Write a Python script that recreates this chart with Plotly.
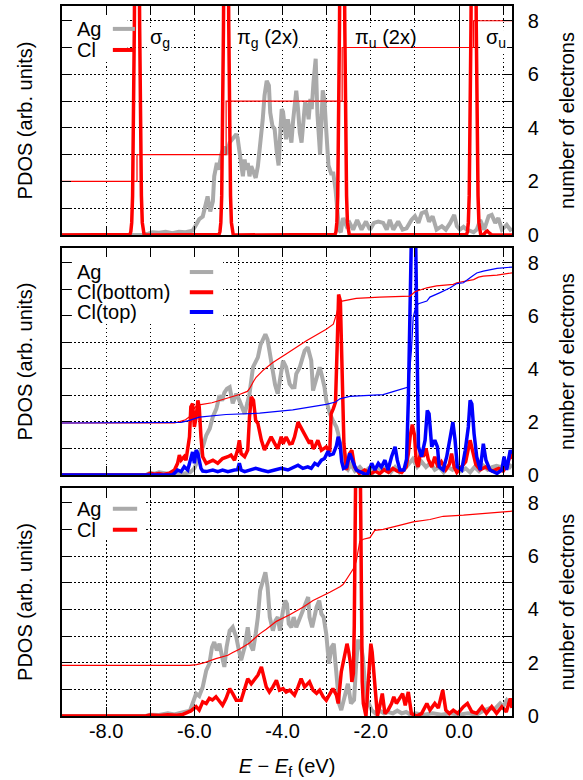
import plotly.graph_objects as go
from plotly.subplots import make_subplots

# ---------------------------------------------------------------- data
# (energy relative to E_f in eV, value) pairs

# panel 1: Cl2 molecule + Ag
top_ag = [(-9.0, 0.0), (-7.2, 0.0), (-7.05, 0.05), (-6.95, 0.1), (-6.8, 0.08), (-6.65, 0.12), (-6.5, 0.07),
          (-6.35, 0.12), (-6.2, 0.1), (-6.1, 0.13), (-6.04, 0.16), (-5.96, 0.38), (-5.89, 0.59), (-5.81, 0.69),
          (-5.75, 1.07), (-5.70, 1.44), (-5.64, 0.88), (-5.58, 1.25), (-5.55, 2.19), (-5.49, 2.69), (-5.45, 2.44),
          (-5.39, 3.01), (-5.33, 3.3), (-5.27, 3.0), (-5.20, 3.45), (-5.13, 3.57), (-5.05, 3.76), (-5.02, 3.63),
          (-4.98, 3.07), (-4.94, 2.57), (-4.90, 2.19), (-4.86, 2.82), (-4.83, 2.44), (-4.79, 2.69), (-4.75, 2.19),
          (-4.71, 2.57), (-4.66, 2.32), (-4.61, 2.13), (-4.56, 2.57), (-4.52, 3.13), (-4.48, 3.82), (-4.45, 4.32),
          (-4.41, 5.2), (-4.36, 5.76), (-4.31, 5.58), (-4.28, 4.57), (-4.23, 4.07), (-4.18, 3.95), (-4.13, 3.07),
          (-4.09, 2.6), (-4.05, 3.9), (-4.02, 4.7), (-3.99, 4.6), (-3.95, 4.07), (-3.92, 3.57), (-3.88, 4.32),
          (-3.84, 3.88), (-3.80, 3.45), (-3.76, 4.3), (-3.72, 4.9), (-3.69, 5.39), (-3.65, 4.7), (-3.61, 3.82),
          (-3.57, 3.45), (-3.53, 4.2), (-3.49, 4.95), (-3.45, 4.82), (-3.41, 4.32), (-3.37, 5.08), (-3.34, 4.7),
          (-3.30, 5.7), (-3.25, 6.58), (-3.21, 4.5), (-3.15, 3.0), (-3.09, 5.4), (-3.05, 5.0), (-3.01, 3.9),
          (-2.96, 2.6), (-2.90, 2.3), (-2.85, 2.3), (-2.80, 1.7), (-2.76, 0.8), (-2.72, 0.2), (-2.68, 0.1),
          (-2.63, 0.63), (-2.55, 0.33), (-2.48, 0.45), (-2.40, 0.2), (-2.31, 0.56), (-2.21, 0.2), (-2.11, 0.5),
          (-2.02, 0.2), (-1.93, 0.45), (-1.83, 0.5), (-1.72, 0.45), (-1.64, 0.2), (-1.57, 0.56), (-1.49, 0.2),
          (-1.38, 0.5), (-1.28, 0.2), (-1.19, 0.25), (-1.08, 0.56), (-1.00, 0.7), (-0.92, 0.45), (-0.85, 0.81),
          (-0.75, 0.88), (-0.68, 0.5), (-0.60, 0.7), (-0.51, 0.2), (-0.39, 0.33), (-0.30, 0.2), (-0.20, 0.45),
          (-0.11, 0.75), (-0.05, 0.33), (0.02, 0.2), (0.10, 0.3), (0.17, 0.2), (0.25, 0.15), (0.33, 0.1),
          (0.40, 0.2), (0.48, 0.56), (0.57, 0.2), (0.67, 0.7), (0.74, 0.75), (0.82, 0.45), (0.89, 0.63),
          (0.97, 0.2), (1.08, 0.38), (1.16, 0.2), (1.20, 0.25)]

top_cl = [(-9.0, 0.0), (-7.50, 0.0),
          # sigma_g
          (-7.46, 0.02), (-7.44, 0.12), (-7.42, 0.46), (-7.40, 1.46), (-7.38, 3.75), (-7.36, 7.8), (-7.34, 13.2),
          (-7.32, 18.0), (-7.30, 20.0), (-7.28, 18.0), (-7.26, 13.2), (-7.24, 7.8), (-7.22, 3.75), (-7.20, 1.46),
          (-7.18, 0.46), (-7.16, 0.12), (-7.14, 0.02), (-7.10, 0.0), (-5.46, 0.0),
          # pi_g
          (-5.44, 0.02), (-5.42, 0.12), (-5.40, 0.46), (-5.38, 1.46), (-5.36, 3.75), (-5.34, 7.8), (-5.32, 13.2),
          (-5.30, 18.0), (-5.28, 20.0), (-5.26, 18.0), (-5.24, 13.2), (-5.22, 7.8), (-5.20, 3.75), (-5.18, 1.46),
          (-5.16, 0.46), (-5.14, 0.12), (-5.12, 0.02), (-5.08, 0.0), (-2.83, 0.0),
          # pi_u
          (-2.81, 0.02), (-2.79, 0.12), (-2.77, 0.46), (-2.75, 1.46), (-2.73, 3.75), (-2.71, 7.8), (-2.69, 13.2),
          (-2.67, 18.0), (-2.65, 20.0), (-2.63, 18.0), (-2.61, 13.2), (-2.59, 7.8), (-2.57, 3.75), (-2.55, 1.46),
          (-2.53, 0.46), (-2.51, 0.12), (-2.49, 0.02), (-2.45, 0.0), (0.15, 0.0),
          # sigma_u
          (0.17, 0.02), (0.19, 0.12), (0.21, 0.46), (0.23, 1.46), (0.25, 3.75), (0.27, 7.8), (0.29, 13.2),
          (0.31, 18.0), (0.33, 20.0), (0.35, 18.0), (0.37, 13.2), (0.39, 7.8), (0.41, 3.75), (0.43, 1.46),
          (0.45, 0.46), (0.47, 0.12), (0.49, 0.02), (0.53, 0.0),
          (0.57, 0.04), (0.61, 0.12), (0.64, 0.15), (0.68, 0.08), (0.74, 0.0), (1.2, 0.0)]

top_cl_count = [(-9.0, 2), (-7.30, 3), (-5.28, 5), (-2.65, 7), (0.33, 8), (1.2, 8)]

# panel 2: Ag + Cl(bottom) + Cl(top)
mid_ag = [(-9.0, 0.0), (-7.1, 0.0), (-7.0, 0.08), (-6.9, 0.05), (-6.8, 0.1), (-6.6, 0.05), (-6.4, 0.08),
          (-6.25, 0.05), (-6.1, 0.1), (-6.0, 0.25), (-5.95, 0.45), (-5.89, 0.85), (-5.81, 1.05), (-5.73, 1.5),
          (-5.65, 1.75), (-5.58, 2.2), (-5.50, 2.5), (-5.43, 3.0), (-5.37, 2.8), (-5.32, 3.1), (-5.26, 3.25),
          (-5.20, 3.31), (-5.13, 2.7), (-5.05, 3.06), (-4.98, 2.81), (-4.92, 2.5), (-4.86, 2.31), (-4.80, 2.7),
          (-4.75, 3.06), (-4.67, 4.06), (-4.61, 4.3), (-4.56, 4.43), (-4.50, 4.9), (-4.45, 5.12), (-4.39, 5.3),
          (-4.34, 5.1), (-4.30, 4.68), (-4.22, 3.81), (-4.17, 3.4), (-4.11, 3.06), (-4.05, 3.6), (-3.99, 4.3),
          (-3.92, 4.06), (-3.84, 3.43), (-3.78, 3.3), (-3.73, 3.31), (-3.69, 3.81), (-3.61, 4.06), (-3.55, 4.4),
          (-3.50, 4.68), (-3.43, 4.81), (-3.39, 4.6), (-3.35, 4.31), (-3.31, 3.18), (-3.27, 3.4), (-3.23, 3.56),
          (-3.16, 4.06), (-3.12, 3.81), (-3.05, 3.31), (-3.01, 2.81), (-2.93, 2.31), (-2.86, 2.06), (-2.78, 1.81),
          (-2.74, 1.56), (-2.70, 1.2), (-2.65, 0.6), (-2.60, 0.35), (-2.52, 0.2), (-2.45, 0.4), (-2.36, 0.15),
          (-2.25, 0.3), (-2.15, 0.1), (-2.05, 0.25), (-1.95, 0.1), (-1.85, 0.3), (-1.75, 0.15), (-1.65, 0.3),
          (-1.55, 0.1), (-1.45, 0.3), (-1.35, 0.1), (-1.25, 0.2), (-1.15, 0.4), (-1.05, 0.6), (-0.95, 0.3),
          (-0.85, 0.5), (-0.75, 0.3), (-0.65, 0.45), (-0.55, 0.2), (-0.45, 0.3), (-0.35, 0.1), (-0.25, 0.3),
          (-0.15, 0.2), (-0.05, 0.35), (0.05, 0.15), (0.15, 0.25), (0.25, 0.1), (0.35, 0.3), (0.45, 0.15),
          (0.55, 0.35), (0.65, 0.2), (0.75, 0.3), (0.85, 0.35), (0.95, 0.3), (1.05, 0.45), (1.15, 0.3), (1.2, 0.4)]

mid_cl_bottom = [(-9.0, 0.0), (-7.1, 0.0), (-7.0, 0.06), (-6.9, 0.03), (-6.8, 0.06), (-6.7, 0.02), (-6.57, 0.07),
                 (-6.45, 0.19), (-6.38, 0.44), (-6.34, 0.75), (-6.30, 0.56), (-6.23, 0.69), (-6.19, 0.56),
                 (-6.11, 1.44), (-6.08, 2.56), (-6.04, 2.69), (-6.0, 1.81), (-5.96, 2.18), (-5.92, 2.81),
                 (-5.89, 2.56), (-5.85, 1.44), (-5.81, 0.69), (-5.73, 0.44), (-5.65, 0.5), (-5.58, 0.56),
                 (-5.47, 0.44), (-5.36, 0.62), (-5.24, 0.69), (-5.17, 0.75), (-5.09, 0.56), (-5.02, 0.94),
                 (-4.98, 1.31), (-4.94, 0.81), (-4.86, 0.69), (-4.79, 0.94), (-4.75, 2.18), (-4.71, 2.94),
                 (-4.66, 2.81), (-4.61, 2.06), (-4.56, 1.94), (-4.48, 1.31), (-4.41, 0.94), (-4.33, 1.19),
                 (-4.26, 1.44), (-4.18, 1.19), (-4.11, 0.99), (-4.03, 1.44), (-3.99, 1.18), (-3.92, 1.43),
                 (-3.84, 1.18), (-3.78, 1.2), (-3.73, 1.43), (-3.65, 1.99), (-3.61, 1.87), (-3.54, 1.68),
                 (-3.46, 1.43), (-3.39, 1.19), (-3.35, 1.31), (-3.31, 0.99), (-3.27, 1.06), (-3.20, 1.31),
                 (-3.12, 0.93), (-3.05, 1.0), (-3.01, 1.06), (-2.93, 0.87), (-2.90, 2.31), (-2.85, 2.5),
                 (-2.80, 2.75), (-2.76, 5.0), (-2.73, 6.8), (-2.69, 6.55), (-2.65, 3.56), (-2.61, 1.18),
                 (-2.55, 0.19), (-2.48, 0.81), (-2.43, 0.93), (-2.37, 0.31), (-2.26, 0.06), (-2.14, 0.19),
                 (-2.0, 0.05), (-1.9, 0.15), (-1.8, 0.05), (-1.7, 0.2), (-1.6, 0.1), (-1.5, 0.25), (-1.4, 0.15),
                 (-1.3, 0.1), (-1.2, 0.3), (-1.15, 0.8), (-1.11, 1.44), (-1.06, 1.9), (-1.01, 1.5), (-0.97, 0.5),
                 (-0.93, 0.3), (-0.87, 0.9), (-0.81, 0.69), (-0.75, 1.0), (-0.70, 0.6), (-0.62, 0.3), (-0.55, 0.69),
                 (-0.48, 0.3), (-0.40, 0.5), (-0.30, 0.2), (-0.22, 0.4), (-0.17, 0.81), (-0.11, 0.3), (-0.05, 0.1),
                 (0.05, 0.3), (0.15, 0.5), (0.25, 1.31), (0.30, 0.9), (0.38, 0.4), (0.48, 0.2), (0.60, 0.3),
                 (0.75, 0.15), (0.90, 0.25), (1.0, 0.15), (1.1, 0.4), (1.16, 0.81), (1.2, 0.6)]

mid_cl_top = [(-9.0, 0.0), (-6.5, 0.0), (-6.45, 0.07), (-6.38, 0.19), (-6.30, 0.13), (-6.23, 0.31), (-6.15, 0.19),
              (-6.08, 0.69), (-6.04, 0.87), (-6.0, 0.44), (-5.96, 0.94), (-5.92, 0.81), (-5.89, 0.5), (-5.85, 0.25),
              (-5.81, 0.15), (-5.73, 0.13), (-5.58, 0.19), (-5.47, 0.13), (-5.36, 0.19), (-5.24, 0.13),
              (-5.09, 0.19), (-5.02, 0.2), (-4.98, 0.45), (-4.94, 0.19), (-4.86, 0.13), (-4.75, 0.19),
              (-4.61, 0.25), (-4.48, 0.19), (-4.33, 0.13), (-4.18, 0.19), (-4.03, 0.25), (-3.88, 0.19),
              (-3.73, 0.31), (-3.65, 0.37), (-3.54, 0.25), (-3.43, 0.31), (-3.35, 0.25), (-3.27, 0.44),
              (-3.20, 0.37), (-3.12, 0.56), (-3.05, 0.62), (-2.97, 0.9), (-2.93, 0.75), (-2.85, 0.8),
              (-2.78, 1.1), (-2.74, 1.44), (-2.70, 1.2), (-2.66, 0.5), (-2.62, 0.25), (-2.55, 0.31),
              (-2.48, 0.81), (-2.42, 0.56), (-2.33, 0.19), (-2.17, 0.06), (-2.08, 0.0), (-1.98, 0.44),
              (-1.91, 0.19), (-1.83, 0.44), (-1.76, 0.3), (-1.68, 0.56), (-1.61, 0.19), (-1.53, 0.69),
              (-1.45, 1.06), (-1.40, 0.56), (-1.34, 0.19), (-1.25, 0.19), (-1.19, 0.6), (-1.15, 2.8),
              (-1.12, 5.5), (-1.09, 8.5), (-1.06, 10.8), (-1.035, 11.5), (-1.01, 10.8), (-0.98, 8.5),
              (-0.95, 4.5), (-0.92, 1.06), (-0.85, 0.69), (-0.77, 1.31), (-0.72, 2.43), (-0.68, 2.31),
              (-0.62, 1.06), (-0.55, 1.31), (-0.49, 1.06), (-0.45, 0.31), (-0.36, 0.19), (-0.28, 0.69),
              (-0.20, 1.43), (-0.14, 1.99), (-0.09, 1.31), (-0.04, 0.31), (0.06, 0.19), (0.14, 0.93),
              (0.21, 1.81), (0.25, 2.81), (0.29, 2.68), (0.34, 1.56), (0.40, 0.69), (0.48, 0.19), (0.55, 1.18),
              (0.61, 0.56), (0.70, 0.19), (0.86, 0.06), (0.97, 0.19), (1.02, 0.69), (1.08, 0.19), (1.16, 0.93),
              (1.2, 0.8)]

mid_count_bottom = [(-9.0, 1.96), (-6.45, 1.96), (-6.35, 2.0), (-6.2, 2.08), (-6.11, 2.2), (-6.05, 2.45),
                    (-5.95, 2.6), (-5.89, 2.64), (-5.6, 2.72), (-5.28, 2.87), (-4.98, 3.03), (-4.80, 3.15),
                    (-4.75, 3.25), (-4.65, 3.55), (-4.60, 3.68), (-4.45, 3.93), (-4.22, 4.24), (-3.92, 4.56),
                    (-3.61, 4.88), (-3.46, 5.06), (-3.01, 5.49), (-2.85, 5.68), (-2.78, 6.05), (-2.72, 6.45),
                    (-2.65, 6.55), (-2.33, 6.65), (-1.80, 6.70), (-1.11, 6.74), (-1.0, 6.90), (-0.73, 7.05),
                    (-0.51, 7.12), (-0.13, 7.18), (-0.05, 7.24), (0.17, 7.30), (0.33, 7.36), (0.44, 7.45),
                    (0.55, 7.49), (0.86, 7.53), (1.2, 7.61)]

mid_count_top = [(-9.0, 1.96), (-6.45, 1.96), (-6.3, 1.98), (-6.11, 2.06), (-5.95, 2.15), (-5.89, 2.18),
                 (-5.28, 2.28), (-4.52, 2.33), (-3.77, 2.45), (-3.01, 2.66), (-2.80, 2.75), (-2.70, 2.87),
                 (-2.48, 2.96), (-2.02, 3.0), (-1.72, 3.03), (-1.42, 3.18), (-1.15, 3.31), (-1.08, 4.68),
                 (-1.04, 5.93), (-0.98, 6.35), (-0.92, 6.45), (-0.73, 6.55), (-0.66, 6.70), (-0.43, 6.87),
                 (-0.20, 7.05), (-0.05, 7.21), (0.10, 7.24), (0.25, 7.43), (0.40, 7.61), (0.55, 7.68),
                 (0.86, 7.78), (1.2, 7.83)]

# panel 3: Ag + Cl
bot_ag = [(-9.0, 0.0), (-7.1, 0.0), (-7.0, 0.05), (-6.8, 0.04), (-6.6, 0.1), (-6.45, 0.06), (-6.3, 0.12),
          (-6.2, 0.15), (-6.1, 0.2), (-6.04, 0.47), (-5.96, 0.84), (-5.89, 0.75), (-5.81, 1.09), (-5.73, 1.71),
          (-5.66, 1.96), (-5.60, 2.58), (-5.55, 2.77), (-5.49, 2.46), (-5.43, 2.71), (-5.37, 2.21), (-5.32, 1.84),
          (-5.27, 2.58), (-5.20, 3.20), (-5.13, 3.33), (-5.05, 2.96), (-4.99, 2.46), (-4.94, 2.09), (-4.86, 2.58),
          (-4.79, 3.33), (-4.74, 2.71), (-4.67, 2.46), (-4.61, 3.08), (-4.56, 3.71), (-4.51, 4.70), (-4.45, 5.08),
          (-4.39, 5.39), (-4.34, 4.83), (-4.29, 3.71), (-4.22, 3.20), (-4.16, 3.58), (-4.11, 3.71), (-4.06, 3.20),
          (-3.99, 3.96), (-3.94, 4.33), (-3.90, 4.2), (-3.86, 3.46), (-3.80, 3.33), (-3.75, 3.71), (-3.69, 3.33),
          (-3.63, 3.58), (-3.58, 3.83), (-3.52, 4.08), (-3.46, 4.33), (-3.42, 4.46), (-3.39, 3.71), (-3.33, 3.33),
          (-3.28, 3.7), (-3.23, 4.08), (-3.17, 4.33), (-3.12, 3.83), (-3.07, 3.71), (-3.01, 3.08), (-2.95, 1.96),
          (-2.89, 2.58), (-2.84, 2.71), (-2.78, 1.46), (-2.72, 0.47), (-2.67, 0.22), (-2.59, 0.84), (-2.52, 1.21),
          (-2.45, 0.47), (-2.38, 0.6), (-2.33, 2.0), (-2.29, 2.8), (-2.24, 2.8), (-2.18, 2.2), (-2.14, 1.34),
          (-2.08, 0.59), (-1.98, 0.22), (-1.9, 0.1), (-1.8, 0.2), (-1.7, 0.1), (-1.6, 0.15), (-1.5, 0.1),
          (-1.4, 0.2), (-1.3, 0.1), (-1.2, 0.15), (-1.1, 0.05), (-1.0, 0.1), (-0.8, 0.05), (-0.6, 0.1),
          (-0.4, 0.05), (-0.2, 0.1), (0.0, 0.05), (0.2, 0.1), (0.4, 0.05), (0.55, 0.2), (0.7, 0.3), (0.8, 0.25),
          (0.93, 0.47), (1.0, 0.35), (1.08, 0.59), (1.15, 0.45), (1.2, 0.5)]

bot_cl = [(-9.0, 0.0), (-7.1, 0.0), (-7.0, 0.04), (-6.8, 0.02), (-6.6, 0.05), (-6.4, 0.03), (-6.26, 0.06),
          (-6.15, 0.12), (-6.08, 0.19), (-5.96, 0.35), (-5.89, 0.22), (-5.81, 0.53), (-5.73, 0.47), (-5.66, 0.66),
          (-5.59, 0.6), (-5.51, 0.72), (-5.43, 0.53), (-5.36, 0.40), (-5.28, 0.66), (-5.20, 1.03), (-5.13, 0.84),
          (-5.05, 0.59), (-4.94, 0.59), (-4.86, 0.97), (-4.79, 1.40), (-4.71, 1.21), (-4.64, 1.34), (-4.56, 1.53),
          (-4.48, 1.84), (-4.43, 1.47), (-4.37, 1.09), (-4.30, 0.90), (-4.22, 1.09), (-4.14, 1.34), (-4.07, 0.97),
          (-3.99, 1.03), (-3.92, 0.90), (-3.84, 0.97), (-3.73, 0.78), (-3.65, 1.09), (-3.58, 1.40), (-3.50, 1.09),
          (-3.39, 1.28), (-3.31, 0.97), (-3.23, 0.85), (-3.16, 0.97), (-3.08, 0.72), (-3.01, 0.59), (-2.93, 0.84),
          (-2.86, 1.03), (-2.78, 0.78), (-2.74, 0.47), (-2.67, 1.65), (-2.60, 2.3), (-2.54, 2.71), (-2.50, 2.4),
          (-2.46, 1.96), (-2.43, 1.28), (-2.395, 1.6), (-2.375, 3.4), (-2.355, 7.0), (-2.335, 11.9),
          (-2.315, 16.2), (-2.295, 18.0), (-2.275, 16.2), (-2.255, 11.9), (-2.235, 7.0), (-2.215, 3.4),
          (-2.195, 1.3), (-2.17, 0.47), (-2.11, 0.0), (-2.06, 1.21), (-2.02, 2.5), (-2.00, 2.71), (-1.97, 2.4),
          (-1.91, 1.06), (-1.85, 0.0), (-1.80, 0.35), (-1.74, 0.84), (-1.68, 0.09), (-1.61, 0.22), (-1.53, 0.47),
          (-1.48, 0.72), (-1.42, 0.47), (-1.34, 0.66), (-1.28, 0.84), (-1.22, 0.4), (-1.15, 0.90), (-1.08, 0.09),
          (-0.96, 0.0), (-0.85, 0.09), (-0.73, 0.47), (-0.66, 0.22), (-0.55, 0.47), (-0.47, 0.3), (-0.37, 0.97),
          (-0.30, 0.22), (-0.22, 0.09), (-0.13, 0.22), (-0.03, 0.1), (0.10, 0.35), (0.19, 0.47), (0.29, 0.16),
          (0.40, 0.1), (0.52, 0.35), (0.62, 0.1), (0.74, 0.35), (0.85, 0.1), (0.97, 0.35), (1.07, 0.15),
          (1.16, 0.66), (1.2, 0.3)]

bot_cl_count = [(-9.0, 1.90), (-6.11, 1.90), (-5.95, 1.93), (-5.81, 1.98), (-5.51, 2.15), (-5.24, 2.28),
                (-5.13, 2.38), (-4.98, 2.50), (-4.75, 2.74), (-4.52, 3.08), (-4.37, 3.25), (-4.14, 3.55),
                (-3.84, 3.80), (-3.54, 4.08), (-3.31, 4.33), (-3.08, 4.51), (-2.93, 4.64), (-2.70, 4.85),
                (-2.63, 4.93), (-2.55, 5.13), (-2.40, 5.51), (-2.33, 5.8), (-2.25, 6.55), (-2.17, 6.63),
                (-2.02, 6.69), (-1.91, 6.96), (-1.72, 7.0), (-1.42, 7.12), (-1.04, 7.28), (-0.66, 7.37),
                (-0.36, 7.49), (0.10, 7.53), (0.48, 7.58), (1.2, 7.68)]

# axis ticks
energy_ticks = [-9, -8, -7, -6, -5, -4, -3, -2, -1, 0, 1]
energy_labels = ["", "-8.0", "", "-6.0", "", "-4.0", "", "-2.0", "", "0.0", ""]
count_ticks = [0, 1, 2, 3, 4, 5, 6, 7, 8]
count_labels = ["0", "", "2", "", "4", "", "6", "", "8"]

# ---------------------------------------------------------------- styling
GRAY, RED, BLUE = "#aaaaaa", "#ff0000", "#0000ff"
THICK, THIN = 3.5, 1.2
FONT = "Liberation Sans, Arial, Helvetica, sans-serif"
Y_MAX = 8.55


def split(pairs):
    return [p[0] for p in pairs], [p[1] for p in pairs]


fig = make_subplots(rows=3, cols=1, specs=[[{"secondary_y": True}]] * 3, vertical_spacing=0.02)


def curve(pairs, color, width, row, secondary=False, shape="linear"):
    e, v = split(pairs)
    fig.add_trace(go.Scatter(x=e, y=v, mode="lines", line=dict(color=color, width=width, shape=shape),
                             showlegend=False, hoverinfo="skip"),
                  row=row, col=1, secondary_y=secondary)


# panel 1
curve(top_ag, GRAY, THICK + 0.5, 1)
curve(top_cl, RED, THICK, 1)
curve(top_cl_count, RED, THIN, 1, secondary=True, shape="hv")
# panel 2
curve(mid_ag, GRAY, THICK + 0.5, 2)
curve(mid_cl_bottom, RED, THICK, 2)
curve(mid_cl_top, BLUE, THICK, 2)
curve(mid_count_bottom, RED, THIN, 2, secondary=True)
curve(mid_count_top, BLUE, THIN, 2, secondary=True)
# panel 3
curve(bot_ag, GRAY, THICK + 0.5, 3)
curve(bot_cl, RED, THICK, 3)
curve(bot_cl_count, RED, THIN, 3, secondary=True)

# panel vertical extents (fractions of the plotting height)
domains = {1: [0.6775, 1.0], 2: [0.3394, 0.6592], 3: [0.0, 0.3211]}
DOT = "1.5px,2.5px"
TXT = dict(size=20, family=FONT, color="black")

for r in (1, 2, 3):
    fig.update_xaxes(row=r, col=1, domain=[0.0, 1.0], range=[-9, 1.2], tickmode="array",
                     tickvals=energy_ticks, ticktext=energy_labels, showticklabels=(r == 3),
                     ticks="inside", ticklen=9, tickwidth=1, tickcolor="black", showline=True,
                     linecolor="black", linewidth=1.5, mirror="ticks", showgrid=True, gridcolor="black",
                     gridwidth=1, griddash=DOT, zeroline=True, zerolinecolor="black", zerolinewidth=1.2,
                     tickfont=TXT, ticklabelstandoff=-4, automargin=False)
    fig.update_yaxes(row=r, col=1, secondary_y=False, domain=domains[r], range=[0, Y_MAX],
                     tickmode="array", tickvals=count_ticks, showticklabels=False, ticks="inside",
                     ticklen=9, tickwidth=1, tickcolor="black", showline=True, linecolor="black",
                     linewidth=1.5, showgrid=True, gridcolor="black", gridwidth=1, griddash=DOT,
                     zeroline=False, automargin=False,
                     title=dict(text="PDOS (arb. units)", standoff=22, font=TXT))
    fig.update_yaxes(row=r, col=1, secondary_y=True, domain=domains[r], range=[0, Y_MAX],
                     tickmode="array", tickvals=count_ticks, ticktext=count_labels, side="right",
                     ticks="inside", ticklen=9, tickwidth=1, tickcolor="black", showline=True,
                     linecolor="black", linewidth=1.5, showgrid=False, zeroline=False,
                     tickfont=TXT, ticklabelstandoff=10, automargin=False,
                     title=dict(text="number of electrons", standoff=22, font=TXT))

fig.update_xaxes(row=3, col=1,
                 title=dict(text="<i>E</i> − <i>E</i><sub>f</sub> (eV)", standoff=18, font=TXT))

# opaque white key boxes, key samples and key texts
panel_axes = {1: ("x", "y"), 2: ("x2", "y3"), 3: ("x3", "y5")}
key_boxes = {1: (0.022, 0.146, 0.764, 0.956), 2: (0.022, 0.358, 0.674, 0.956), 3: (0.022, 0.184, 0.772, 0.956)}
keys = {
    1: [("Ag", GRAY, 0.90), ("Cl", RED, 0.808)],
    2: [("Ag", GRAY, 0.894), ("Cl(bottom)", RED, 0.805), ("Cl(top)", BLUE, 0.718)],
    3: [("Ag", GRAY, 0.909), ("Cl", RED, 0.817)],
}
key_sample = {1: (0.113, 0.162), 2: (0.284, 0.336), 3: (0.113, 0.167)}

shapes, annotations = [], []
for r in (1, 2, 3):
    xa, ya = panel_axes[r]
    bx0, bx1, by0, by1 = key_boxes[r]
    shapes.append(dict(type="rect", xref=f"{xa} domain", yref=f"{ya} domain", x0=bx0, x1=bx1,
                       y0=by0, y1=by1, fillcolor="white", line=dict(width=0), layer="above"))
    sx0, sx1 = key_sample[r]
    for label, color, ky in keys[r]:
        annotations.append(dict(text=label, xref=f"{xa} domain", yref=f"{ya} domain", x=0.029, y=ky,
                                xanchor="left", yanchor="middle", showarrow=False, font=TXT))
        shapes.append(dict(type="line", xref=f"{xa} domain", yref=f"{ya} domain", x0=sx0, x1=sx1,
                           y0=ky, y1=ky, line=dict(color=color, width=THICK + 0.5), layer="above"))

# orbital labels in panel 1, each on a small white patch hiding the grid
orbitals = [("σ<sub>g</sub>", 0.191, (0.189, 0.243, 0.799, 0.895)),
            ("π<sub>g</sub> (2x)", 0.384, (0.380, 0.527, 0.808, 0.908)),
            ("π<sub>u</sub> (2x)", 0.646, (0.642, 0.787, 0.826, 0.908)),
            ("σ<sub>u</sub>", 0.937, (0.933, 0.989, 0.799, 0.895))]
for text, ox, (px0, px1, py0, py1) in orbitals:
    shapes.append(dict(type="rect", xref="x domain", yref="y domain", x0=px0, x1=px1, y0=py0, y1=py1,
                       fillcolor="white", line=dict(width=0), layer="above"))
    annotations.append(dict(text=text, xref="x domain", yref="y domain", x=ox, y=0.86,
                            xanchor="left", yanchor="middle", showarrow=False, font=TXT))

fig.update_layout(width=583, height=780, margin=dict(l=62, r=71, t=6, b=64),
                  paper_bgcolor="white", plot_bgcolor="white", showlegend=False,
                  font=dict(family=FONT, size=20, color="black"),
                  shapes=shapes, annotations=annotations)

fig.write_html("out.html")
